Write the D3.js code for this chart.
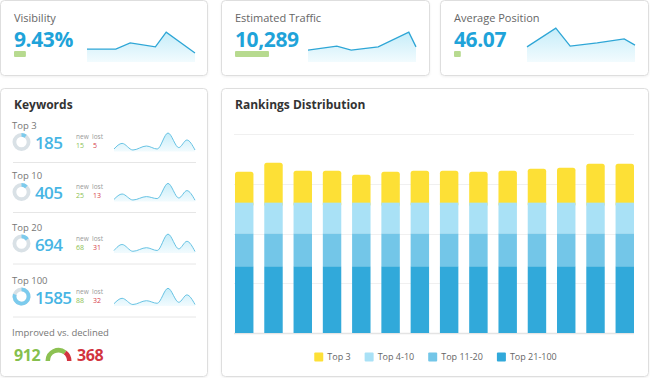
<!DOCTYPE html>
<html>
<head>
<meta charset="utf-8">
<script src="https://cdn.jsdelivr.net/npm/d3@7"></script>
<style>
  body { margin: 0; background: #fff; font-family: "Open Sans", sans-serif; }
</style>
</head>
<body>
<script>

// ---- data ----
var kpiTitles = ["Visibility", "Estimated Traffic", "Average Position"];
var kpiValues = ["9.43%", "10,289", "46.07"];
var kpiChange = [0.35, 1.0, 0.2];

// day of period / relative trend value (0-100)
var visDays = [0, 8, 12, 19, 22, 30];
var visTrend = [36, 36, 53, 42, 83, 25];
var trafficDays = [0, 8, 12, 19.5, 28, 30];
var trafficTrend = [33, 44, 33, 42, 83, 42];
var positionDays = [0, 8, 12, 19.5, 27, 30];
var positionTrend = [42, 94, 44, 53, 64, 47];

var kwLabels = ["Top 3", "Top 10", "Top 20", "Top 100"];
var kwValues = [185, 405, 694, 1585];
var kwNew = [15, 25, 68, 88];
var kwLost = [5, 13, 31, 32];
var kwShare = [0.1, 0.12, 0.15, 0.8];
var kwDays = [0, 3, 7, 12, 16, 20, 24, 27, 30];
var kwTrend = [
  [10, 38, 5, 25, 10, 90, 17, 55, 5],
  [8, 35, 5, 22, 12, 88, 15, 52, 4],
  [10, 40, 6, 24, 10, 92, 18, 56, 5],
  [9, 36, 5, 24, 11, 86, 16, 53, 5]
];
var improved = 912;
var declined = 368;

var rdPeriods = ["01", "02", "03", "04", "05", "06", "07", "08", "09", "10", "11", "12", "13", "14"];
var rdTop3 = [31, 40, 32, 32, 28, 31, 32, 32, 31, 32, 34, 35, 39, 39];
var rdTop4to10 = [31, 31, 31, 31, 31, 31, 31, 31, 31, 31, 31, 31, 31, 31];
var rdTop11to20 = [33, 33, 33, 33, 33, 33, 33, 33, 33, 33, 33, 33, 33, 33];
var rdTop21to100 = [67, 67, 67, 67, 67, 67, 67, 67, 67, 67, 67, 67, 67, 67];
var rdLegend = ["Top 3", "Top 4-10", "Top 11-20", "Top 21-100"];

// ---- drawing ----
var svg = d3.select("body").append("svg")
  .attr("width", 650)
  .attr("height", 378);

var defs = svg.append("defs");
var grad = defs.append("linearGradient").attr("id", "sparkFill")
  .attr("x1", 0).attr("y1", 0).attr("x2", 0).attr("y2", 1);
grad.append("stop").attr("offset", "0%").attr("stop-color", "#c6edf9");
grad.append("stop").attr("offset", "100%").attr("stop-color", "#f2fbfe");

var sh = defs.append("filter").attr("id", "shadow")
  .attr("x", "-5%").attr("y", "-5%").attr("width", "110%").attr("height", "115%");
sh.append("feDropShadow").attr("dx", 0).attr("dy", 1).attr("stdDeviation", 1)
  .attr("flood-color", "#000").attr("flood-opacity", 0.06);

function card(x, y, w, h) {
  svg.append("rect")
    .attr("x", x + 0.5).attr("y", y + 0.5)
    .attr("width", w).attr("height", h)
    .attr("rx", 4)
    .attr("fill", "#fff")
    .attr("stroke", "#dedede")
    .attr("filter", "url(#shadow)");
}

card(0, 0, 207, 75);
card(221, 0, 208, 75);
card(440, 0, 208, 75);
card(0, 88, 207, 288);
card(221, 88, 427, 288);

// KPI cards
var kpiX = [0, 221, 440];
var kpiDays = [visDays, trafficDays, positionDays];
var kpiTrend = [visTrend, trafficTrend, positionTrend];
var changeW = d3.scaleLinear().domain([0, 1]).range([0, 34]);

kpiTitles.forEach(function(t, i) {
  var x0 = kpiX[i];
  svg.append("text").attr("x", x0 + 14).attr("y", 22)
    .attr("font-size", 11).attr("fill", "#666").text(t);
  svg.append("text").attr("x", x0 + 14).attr("y", 47)
    .attr("font-size", 21).attr("font-weight", 700).attr("fill", "#1fa3d9")
    .attr("letter-spacing", -0.4)
    .text(kpiValues[i]);
  svg.append("rect").attr("x", x0 + 14).attr("y", 51)
    .attr("width", changeW(kpiChange[i])).attr("height", 6)
    .attr("rx", 1).attr("fill", "#b7da8f");

  var pts = kpiDays[i].map(function(d, j) { return [d, kpiTrend[i][j]]; });
  var sx = d3.scaleLinear().domain([0, 30]).range([x0 + 87, x0 + 195]);
  var sy = d3.scaleLinear().domain([0, 100]).range([62, 26]);
  svg.append("path").datum(pts)
    .attr("fill", "url(#sparkFill)")
    .attr("d", d3.area().x(function(d) { return sx(d[0]); }).y0(62).y1(function(d) { return sy(d[1]); }));
  svg.append("path").datum(pts)
    .attr("fill", "none").attr("stroke", "#2ea6d6").attr("stroke-width", 1.3)
    .attr("d", d3.line().x(function(d) { return sx(d[0]); }).y(function(d) { return sy(d[1]); }));
});

// Keywords card
svg.append("text").attr("x", 14).attr("y", 109)
  .attr("font-size", 12).attr("font-weight", 700).attr("fill", "#333").text("Keywords");

var rowOff = [0, 50, 101.5, 154.5];
var donutArc = d3.arc().innerRadius(5.2).outerRadius(9);

kwLabels.forEach(function(lab, i) {
  var o = rowOff[i];
  svg.append("text").attr("x", 12).attr("y", 129 + o)
    .attr("font-size", 9.5).attr("fill", "#777").text(lab);

  var g = svg.append("g").attr("transform", "translate(21.5," + (142 + o) + ")");
  g.append("path").attr("fill", "#d9e1e6")
    .attr("d", donutArc({ startAngle: 0, endAngle: 2 * Math.PI }));
  g.append("path").attr("fill", "#7ccbed")
    .attr("d", donutArc({ startAngle: 0, endAngle: kwShare[i] * 2 * Math.PI }));

  svg.append("text").attr("x", 35).attr("y", 149 + o)
    .attr("font-size", 17).attr("font-weight", 600).attr("fill", "#47b5e4")
    .attr("letter-spacing", -0.6)
    .text(kwValues[i]);

  svg.append("text").attr("x", 76).attr("y", 139 + o)
    .attr("font-size", 6.5).attr("fill", "#999").text("new");
  svg.append("text").attr("x", 92).attr("y", 139 + o)
    .attr("font-size", 6.5).attr("fill", "#999").text("lost");
  svg.append("text").attr("x", 76).attr("y", 148 + o)
    .attr("font-size", 7).attr("fill", "#8cc152").text(kwNew[i]);
  svg.append("text").attr("x", 93).attr("y", 148 + o)
    .attr("font-size", 7).attr("fill", "#d6404b").text(kwLost[i]);

  var pts = kwDays.map(function(d, j) { return [d, kwTrend[i][j]]; });
  var sx = d3.scaleLinear().domain([0, 30]).range([114, 195]);
  var sy = d3.scaleLinear().domain([0, 100]).range([151 + o, 131 + o]);
  svg.append("path").datum(pts)
    .attr("fill", "url(#sparkFill)")
    .attr("d", d3.area().curve(d3.curveMonotoneX)
      .x(function(d) { return sx(d[0]); }).y0(151.5 + o).y1(function(d) { return sy(d[1]); }));
  svg.append("path").datum(pts)
    .attr("fill", "none").attr("stroke", "#67c3e4").attr("stroke-width", 1)
    .attr("d", d3.line().curve(d3.curveMonotoneX)
      .x(function(d) { return sx(d[0]); }).y(function(d) { return sy(d[1]); }));

  svg.append("line").attr("x1", 13).attr("x2", 196)
    .attr("y1", 162.5 + o).attr("y2", 162.5 + o)
    .attr("stroke", "#e6e6e6");
});

svg.append("text").attr("x", 12).attr("y", 336)
  .attr("font-size", 9.5).attr("fill", "#777").text("Improved vs. declined");
svg.append("text").attr("x", 14).attr("y", 361)
  .attr("font-size", 16).attr("font-weight", 700).attr("fill", "#86bf4d")
  .attr("letter-spacing", -0.4).text(improved);
svg.append("text").attr("x", 77).attr("y", 361)
  .attr("font-size", 16).attr("font-weight", 700).attr("fill", "#d2343f")
  .attr("letter-spacing", -0.4).text(declined);

var gauge = svg.append("g").attr("transform", "translate(58.5,361)");
var gaugeArc = d3.arc().innerRadius(8.5).outerRadius(13);
var split = -Math.PI / 2 + Math.PI * improved / (improved + declined);
gauge.append("path").attr("fill", "#8cc152")
  .attr("d", gaugeArc({ startAngle: -Math.PI / 2, endAngle: split }));
gauge.append("path").attr("fill", "#d2343f")
  .attr("d", gaugeArc({ startAngle: split, endAngle: Math.PI / 2 }));

// Rankings distribution
svg.append("text").attr("x", 235).attr("y", 109)
  .attr("font-size", 12).attr("font-weight", 700).attr("fill", "#333").text("Rankings Distribution");

var table = rdPeriods.map(function(p, i) {
  return { period: p, t21: rdTop21to100[i], t11: rdTop11to20[i], t4: rdTop4to10[i], t3: rdTop3[i] };
});
var keys = ["t21", "t11", "t4", "t3"];
var colors = { t21: "#31a9da", t11: "#73c6e8", t4: "#a9e1f6", t3: "#fde036" };

var x = d3.scaleBand().domain(rdPeriods).range([235, 634]).paddingInner(0.37).paddingOuter(0);
var y = d3.scaleLinear().domain([0, 200]).range([333, 134]);

svg.append("g").selectAll("line")
  .data(y.ticks(4))
  .join("line")
  .attr("x1", 234).attr("x2", 634)
  .attr("y1", function(d) { return Math.round(y(d)) + 0.5; })
  .attr("y2", function(d) { return Math.round(y(d)) + 0.5; })
  .attr("stroke", function(d) { return d === 0 ? "#e4e4e4" : "#f0f0f0"; })
  .attr("stroke-width", function(d) { return d === 0 ? 1.5 : 1; });

var series = d3.stack().keys(keys)(table);

// top layer first so the lower layers cover its rounded bottom corners
series.slice().reverse().forEach(function(s) {
  var top = s.key === "t3";
  svg.append("g").selectAll("rect")
    .data(s)
    .join("rect")
    .attr("x", function(d) { return x(d.data.period); })
    .attr("width", x.bandwidth())
    .attr("y", function(d) { return y(d[1]); })
    .attr("height", function(d) { return y(d[0]) - y(d[1]) + (top ? 4 : 0); })
    .attr("rx", top ? 2.5 : 0)
    .attr("fill", colors[s.key]);
});

// legend
var legend = svg.append("g");
var cursor = 0;
rdLegend.forEach(function(lab, i) {
  var g = legend.append("g").attr("transform", "translate(" + cursor + ",0)");
  g.append("rect").attr("x", 0).attr("y", -4.5).attr("width", 9).attr("height", 9)
    .attr("rx", 1).attr("fill", colors[keys[keys.length - 1 - i]]);
  var t = g.append("text").attr("x", 13).attr("y", 3.3)
    .attr("font-size", 9).attr("fill", "#666").text(lab);
  cursor += 13 + t.node().getComputedTextLength() + 14;
});
var legendW = cursor - 14;
legend.attr("transform", "translate(" + (435.5 - legendW / 2) + ",357)");

</script>
</body>
</html>
